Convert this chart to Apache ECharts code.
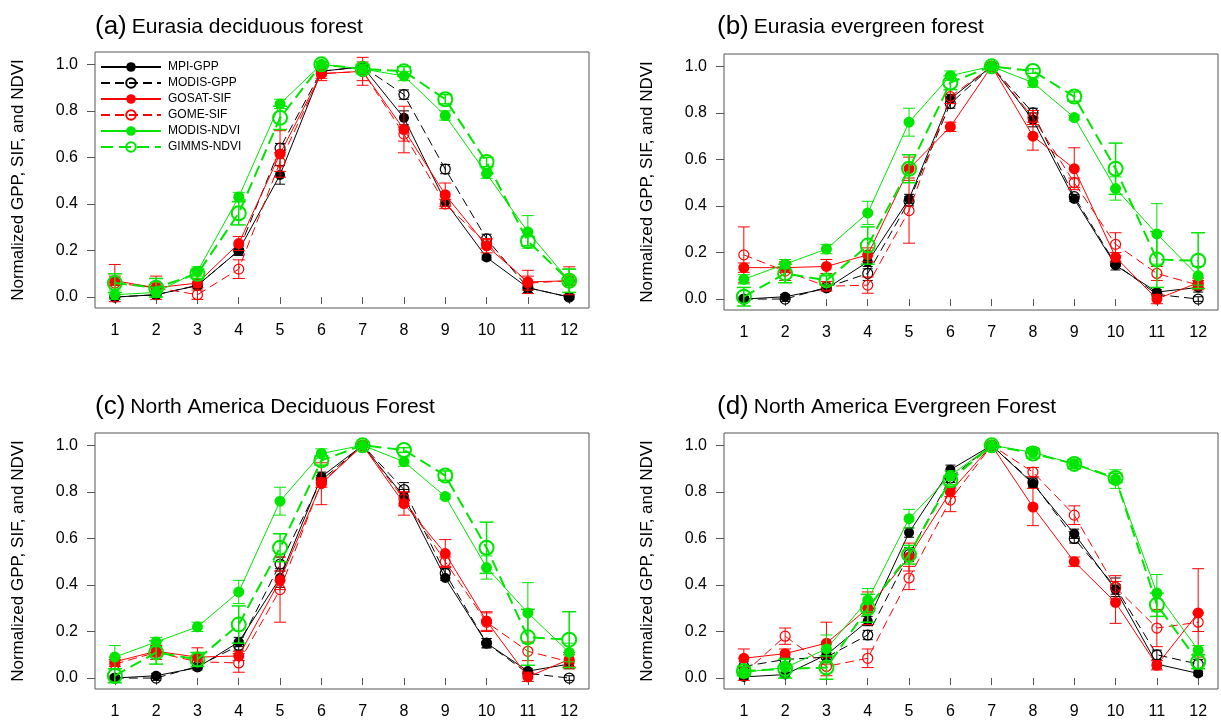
<!DOCTYPE html>
<html lang="en">
<head>
<meta charset="UTF-8">
<title>GPP SIF NDVI seasonal cycle</title>
<script src="https://cdn.jsdelivr.net/npm/echarts@6/dist/echarts.min.js"></script>
<style>
    body { margin: 0; background: #fff; }
    #main { width: 1221px; height: 720px; }
</style>
</head>
<body>
<div id="main"></div>
<script>
// months / tick labels
var months = [1, 2, 3, 4, 5, 6, 7, 8, 9, 10, 11, 12];
var yTicks = [0, 0.2, 0.4, 0.6, 0.8, 1.0];
var seriesNames = ['MPI-GPP', 'MODIS-GPP', 'GOSAT-SIF', 'GOME-SIF', 'MODIS-NDVI', 'GIMMS-NDVI'];
var panelLabels = ['(a)', '(b)', '(c)', '(d)'];
var panelNames = ['Eurasia deciduous forest', 'Eurasia evergreen forest',
    'North America Deciduous Forest', 'North America Evergreen Forest'];

// (a) Eurasia deciduous forest
var aMpiGpp    = [0.00, 0.01, 0.05, 0.20, 0.525, 0.97, 0.99, 0.77, 0.41, 0.17, 0.04, 0.00];
var aModisGpp  = [0.00, 0.01, 0.05, 0.20, 0.64, 0.97, 0.99, 0.87, 0.55, 0.25, 0.04, 0.00];
var aGosatSif  = [0.07, 0.04, 0.06, 0.23, 0.615, 0.96, 0.97, 0.72, 0.44, 0.22, 0.065, 0.07];
var aGomeSif   = [0.06, 0.04, 0.01, 0.12, 0.58, 0.96, 0.97, 0.70, 0.40, 0.23, 0.06, 0.07];
var aModisNdvi = [0.01, 0.02, 0.11, 0.43, 0.83, 1.00, 0.98, 0.95, 0.78, 0.53, 0.28, 0.07];
var aGimmsNdvi = [0.06, 0.04, 0.10, 0.36, 0.77, 1.00, 0.98, 0.97, 0.85, 0.58, 0.24, 0.07];
// error bars (half length)
var aMpiGppErr    = [0.01, 0.01, 0.01, 0.02, 0.04, 0.02, 0.01, 0.03, 0.02, 0.01, 0.02, 0.01];
var aModisGppErr  = [0.01, 0.01, 0.01, 0.02, 0.02, 0.01, 0.01, 0.02, 0.02, 0.02, 0.01, 0.01];
var aGosatSifErr  = [0.02, 0.02, 0.02, 0.03, 0.10, 0.03, 0.06, 0.10, 0.05, 0.03, 0.05, 0.02];
var aGomeSifErr   = [0.08, 0.05, 0.02, 0.04, 0.04, 0.02, 0.04, 0.03, 0.02, 0.02, 0.03, 0.06];
var aModisNdviErr = [0.02, 0.02, 0.02, 0.02, 0.02, 0.01, 0.01, 0.02, 0.02, 0.02, 0.07, 0.05];
var aGimmsNdviErr = [0.04, 0.04, 0.02, 0.05, 0.05, 0.01, 0.02, 0.02, 0.02, 0.02, 0.02, 0.05];

// (b) Eurasia evergreen forest
var bMpiGpp    = [0.00, 0.01, 0.045, 0.16, 0.43, 0.86, 1.00, 0.77, 0.43, 0.145, 0.03, 0.05];
var bModisGpp  = [0.00, 0.00, 0.05, 0.11, 0.42, 0.84, 1.00, 0.80, 0.44, 0.15, 0.02, 0.00];
var bGosatSif  = [0.135, 0.135, 0.14, 0.19, 0.56, 0.74, 1.00, 0.70, 0.56, 0.18, 0.00, 0.07];
var bGomeSif   = [0.19, 0.12, 0.055, 0.06, 0.38, 0.87, 1.00, 0.78, 0.50, 0.235, 0.11, 0.06];
var bModisNdvi = [0.085, 0.15, 0.215, 0.37, 0.76, 0.96, 1.00, 0.93, 0.78, 0.475, 0.28, 0.10];
var bGimmsNdvi = [0.01, 0.11, 0.08, 0.23, 0.56, 0.93, 1.00, 0.98, 0.87, 0.56, 0.17, 0.165];
var bMpiGppErr    = [0.01, 0.01, 0.01, 0.03, 0.02, 0.02, 0.00, 0.03, 0.01, 0.02, 0.01, 0.02];
var bModisGppErr  = [0.01, 0.01, 0.01, 0.03, 0.02, 0.02, 0.00, 0.02, 0.01, 0.01, 0.01, 0.01];
var bGosatSifErr  = [0.02, 0.02, 0.03, 0.03, 0.05, 0.02, 0.00, 0.06, 0.09, 0.02, 0.02, 0.02];
var bGomeSifErr   = [0.12, 0.04, 0.02, 0.035, 0.14, 0.03, 0.00, 0.03, 0.02, 0.05, 0.03, 0.02];
var bModisNdviErr = [0.02, 0.02, 0.02, 0.05, 0.06, 0.02, 0.00, 0.02, 0.01, 0.05, 0.13, 0.04];
var bGimmsNdviErr = [0.04, 0.04, 0.02, 0.08, 0.06, 0.03, 0.00, 0.01, 0.02, 0.11, 0.12, 0.12];

// (c) North America deciduous forest
var cMpiGpp    = [0.00, 0.01, 0.045, 0.155, 0.43, 0.865, 1.00, 0.78, 0.43, 0.15, 0.03, 0.06];
var cModisGpp  = [0.00, 0.00, 0.05, 0.14, 0.49, 0.85, 1.00, 0.81, 0.45, 0.15, 0.02, 0.00];
var cGosatSif  = [0.07, 0.115, 0.09, 0.095, 0.42, 0.835, 1.00, 0.75, 0.535, 0.245, 0.005, 0.08];
var cGomeSif   = [0.06, 0.11, 0.07, 0.065, 0.38, 0.84, 1.00, 0.77, 0.50, 0.24, 0.115, 0.07];
var cModisNdvi = [0.09, 0.155, 0.22, 0.37, 0.76, 0.965, 1.00, 0.93, 0.78, 0.475, 0.28, 0.11];
var cGimmsNdvi = [0.01, 0.11, 0.08, 0.23, 0.56, 0.935, 1.00, 0.98, 0.87, 0.56, 0.175, 0.165];
var cMpiGppErr    = [0.01, 0.01, 0.01, 0.02, 0.04, 0.02, 0.00, 0.03, 0.01, 0.02, 0.01, 0.02];
var cModisGppErr  = [0.01, 0.01, 0.01, 0.02, 0.03, 0.02, 0.00, 0.03, 0.02, 0.02, 0.01, 0.01];
var cGosatSifErr  = [0.02, 0.02, 0.04, 0.02, 0.04, 0.09, 0.00, 0.05, 0.06, 0.04, 0.02, 0.03];
var cGomeSifErr   = [0.02, 0.03, 0.02, 0.04, 0.14, 0.02, 0.00, 0.03, 0.02, 0.04, 0.04, 0.03];
var cModisNdviErr = [0.05, 0.02, 0.02, 0.05, 0.06, 0.02, 0.00, 0.02, 0.01, 0.05, 0.13, 0.04];
var cGimmsNdviErr = [0.03, 0.05, 0.03, 0.08, 0.06, 0.02, 0.00, 0.01, 0.02, 0.11, 0.12, 0.12];

// (d) North America evergreen forest
var dMpiGpp    = [0.005, 0.015, 0.10, 0.245, 0.625, 0.895, 1.00, 0.835, 0.62, 0.38, 0.06, 0.02];
var dModisGpp  = [0.05, 0.08, 0.09, 0.185, 0.53, 0.86, 1.00, 0.84, 0.60, 0.39, 0.10, 0.06];
var dGosatSif  = [0.085, 0.105, 0.15, 0.30, 0.52, 0.80, 1.00, 0.735, 0.50, 0.325, 0.055, 0.28];
var dGomeSif   = [0.02, 0.18, 0.05, 0.085, 0.43, 0.765, 1.00, 0.885, 0.70, 0.39, 0.215, 0.24];
var dModisNdvi = [0.025, 0.045, 0.125, 0.335, 0.685, 0.87, 1.00, 0.97, 0.92, 0.855, 0.365, 0.12];
var dGimmsNdvi = [0.03, 0.04, 0.045, 0.30, 0.53, 0.85, 1.00, 0.965, 0.92, 0.86, 0.315, 0.07];
var dMpiGppErr    = [0.01, 0.01, 0.02, 0.02, 0.02, 0.02, 0.00, 0.01, 0.02, 0.02, 0.02, 0.01];
var dModisGppErr  = [0.02, 0.02, 0.02, 0.02, 0.03, 0.02, 0.00, 0.02, 0.02, 0.04, 0.02, 0.02];
var dGosatSifErr  = [0.04, 0.02, 0.09, 0.07, 0.06, 0.02, 0.00, 0.08, 0.02, 0.09, 0.02, 0.19];
var dGomeSifErr   = [0.03, 0.035, 0.04, 0.04, 0.05, 0.05, 0.00, 0.02, 0.04, 0.05, 0.08, 0.04];
var dModisNdviErr = [0.01, 0.04, 0.06, 0.05, 0.04, 0.02, 0.00, 0.02, 0.01, 0.04, 0.08, 0.02];
var dGimmsNdviErr = [0.02, 0.04, 0.05, 0.06, 0.04, 0.02, 0.00, 0.02, 0.02, 0.02, 0.05, 0.03];

var panelValues = [
    [aMpiGpp, aModisGpp, aGosatSif, aGomeSif, aModisNdvi, aGimmsNdvi],
    [bMpiGpp, bModisGpp, bGosatSif, bGomeSif, bModisNdvi, bGimmsNdvi],
    [cMpiGpp, cModisGpp, cGosatSif, cGomeSif, cModisNdvi, cGimmsNdvi],
    [dMpiGpp, dModisGpp, dGosatSif, dGomeSif, dModisNdvi, dGimmsNdvi]
];
var panelErrors = [
    [aMpiGppErr, aModisGppErr, aGosatSifErr, aGomeSifErr, aModisNdviErr, aGimmsNdviErr],
    [bMpiGppErr, bModisGppErr, bGosatSifErr, bGomeSifErr, bModisNdviErr, bGimmsNdviErr],
    [cMpiGppErr, cModisGppErr, cGosatSifErr, cGomeSifErr, cModisNdviErr, cGimmsNdviErr],
    [dMpiGppErr, dModisGppErr, dGosatSifErr, dGomeSifErr, dModisNdviErr, dGimmsNdviErr]
];

var FONT = 'Liberation Sans, Arial, sans-serif';
var GREEN = '#00e600';

// line look of each product
var styles = [
    {color: '#000', filled: true, size: 10, width: 1, dash: 'solid', cap: 10},
    {color: '#000', filled: false, size: 10, width: 1, dash: [9, 5], cap: 10},
    {color: '#ff0000', filled: true, size: 11, width: 1, dash: 'solid', cap: 12},
    {color: '#ff0000', filled: false, size: 10, width: 1, dash: [9, 5], cap: 12},
    {color: GREEN, filled: true, size: 11, width: 1, dash: 'solid', cap: 12},
    {color: GREEN, filled: false, size: 14, width: 2, dash: [12, 6], cap: 14}
];

var grids = [
    {left: 95, top: 52, width: 494, height: 256},
    {left: 724, top: 54, width: 494, height: 256},
    {left: 95, top: 433, width: 494, height: 257},
    {left: 724, top: 433, width: 494, height: 257}
];
var titlePos = [[90, 9], [712, 9], [90, 389], [712, 389]];

var option = {
    backgroundColor: '#fff',
    animation: false,
    title: [],
    legend: {
        orient: 'vertical',
        left: 95,
        top: 56,
        itemWidth: 60,
        itemHeight: 12,
        itemGap: 4,
        data: seriesNames,
        textStyle: {fontSize: 12, fontFamily: FONT, color: '#000', padding: [0, 0, 0, 2]}
    },
    grid: [],
    xAxis: [],
    yAxis: [],
    series: []
};

function errRender(st) {
    return function (params, api) {
        var x = api.value(0);
        var lo = api.coord([x, api.value(1)]);
        var hi = api.coord([x, api.value(2)]);
        var w = st.cap / 2;
        var ls = {stroke: st.color, lineWidth: st.width > 1 ? 1.5 : 1};
        return {
            type: 'group',
            children: [
                {type: 'line', shape: {x1: lo[0], y1: lo[1], x2: hi[0], y2: hi[1]}, style: ls},
                {type: 'line', shape: {x1: lo[0] - w, y1: lo[1], x2: lo[0] + w, y2: lo[1]}, style: ls},
                {type: 'line', shape: {x1: hi[0] - w, y1: hi[1], x2: hi[0] + w, y2: hi[1]}, style: ls}
            ]
        };
    };
}

for (var p = 0; p < 4; p++) {
    option.grid.push(Object.assign({
        show: true, borderColor: '#555', borderWidth: 1, backgroundColor: '#fff'
    }, grids[p]));
    option.title.push({
        left: titlePos[p][0], top: titlePos[p][1],
        text: '{p|' + panelLabels[p] + '} {t|' + panelNames[p] + '}',
        textStyle: {
            fontFamily: FONT, color: '#000', fontWeight: 'normal',
            rich: {
                p: {fontSize: 26, fontFamily: FONT, color: '#000', fontWeight: 'normal'},
                t: {fontSize: 21, fontFamily: FONT, color: '#000', fontWeight: 'normal'}
            }
        }
    });
    option.xAxis.push({
        gridIndex: p, type: 'value', min: 0.52, max: 12.48,
        axisLine: {show: false},
        splitLine: {show: false},
        axisTick: {show: true, length: 7, customValues: months, lineStyle: {color: '#555'}},
        axisLabel: {customValues: months, fontSize: 16, fontFamily: FONT, color: '#000', margin: 15}
    });
    option.yAxis.push({
        gridIndex: p, type: 'value', min: -0.047, max: 1.053,
        name: 'Normalized GPP, SIF, and NDVI',
        nameLocation: 'middle', nameGap: 68,
        nameTextStyle: {fontSize: 17, fontFamily: FONT, color: '#000'},
        axisLine: {show: false},
        splitLine: {show: false},
        axisTick: {show: true, length: 8, customValues: yTicks, lineStyle: {color: '#555'}},
        axisLabel: {
            customValues: yTicks, fontSize: 16, fontFamily: FONT, color: '#000', margin: 17,
            formatter: function (v) { return v.toFixed(1); }
        }
    });

    for (var s = 0; s < 6; s++) {
        var st = styles[s];
        var vals = panelValues[p][s];
        var errs = panelErrors[p][s];
        option.series.push({
            type: 'custom',
            name: seriesNames[s] + ' err',
            xAxisIndex: p, yAxisIndex: p,
            renderItem: errRender(st),
            encode: {x: 0, y: [1, 2]},
            data: months.map(function (m, k) { return [m, vals[k] - errs[k], vals[k] + errs[k]]; }),
            z: 2 + s, silent: true
        });
        option.series.push({
            type: 'line',
            name: seriesNames[s],
            xAxisIndex: p, yAxisIndex: p,
            data: months.map(function (m, k) { return [m, vals[k]]; }),
            symbol: 'circle',
            symbolSize: st.size,
            showAllSymbol: true,
            lineStyle: {color: st.color, width: st.width, type: st.dash},
            itemStyle: st.filled
                ? {color: st.color}
                : {color: 'rgba(255,255,255,0)', borderColor: st.color, borderWidth: st.width > 1 ? 2 : 1.2},
            z: 2 + s
        });
    }
}

var chart = echarts.init(document.getElementById('main'));
chart.setOption(option);
</script>
</body>
</html>
